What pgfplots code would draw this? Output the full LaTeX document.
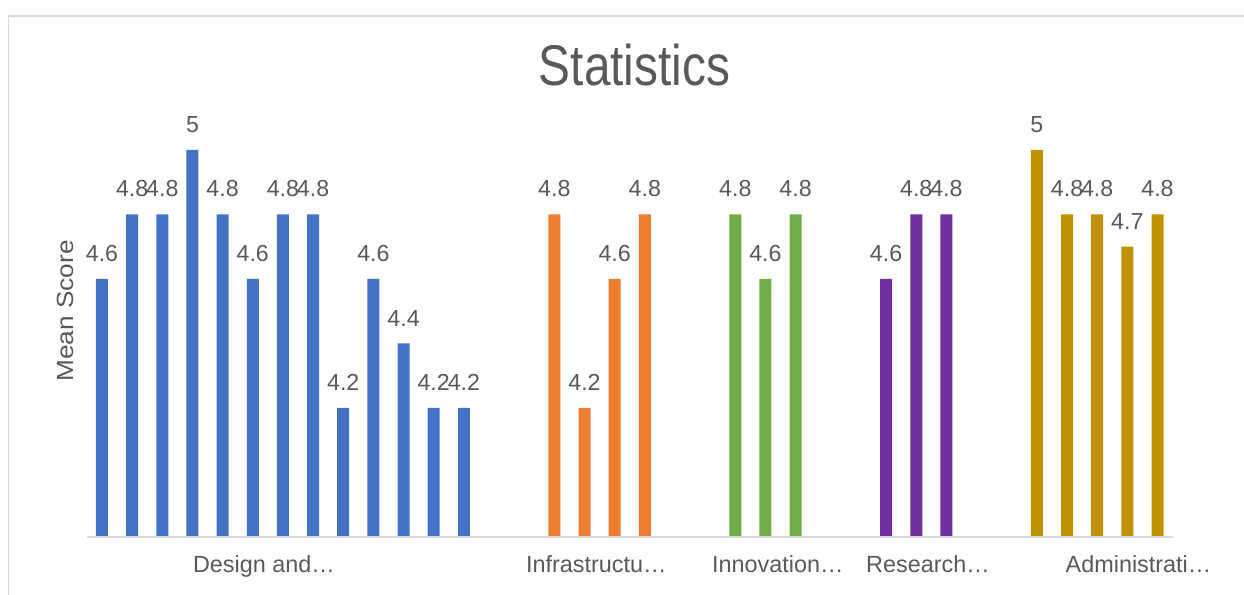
\documentclass[border=0pt]{standalone}
\usepackage{pgfplots}
\pgfplotsset{compat=1.18}
\usepackage{fontspec}
\setmainfont{Liberation Sans}
\definecolor{cBlue}{HTML}{4472C4}
\definecolor{cOrange}{HTML}{ED7D31}
\definecolor{cGreen}{HTML}{70AD47}
\definecolor{cPurple}{HTML}{7030A0}
\definecolor{cGold}{HTML}{BF9000}
\definecolor{txt}{HTML}{595959}
\definecolor{lgray}{HTML}{D9D9D9}
\begin{document}
\begin{tikzpicture}
\useasboundingbox (0,0) rectangle (622pt,297.5pt);
\draw[lgray, line width=0.85pt] (4.25pt,0pt) -- (4.25pt,289.5pt) -- (622pt,289.5pt);
\begin{axis}[
  at={(43.45pt,29pt)}, anchor=south west,
  scale only axis, width=542.85pt, height=225.75pt,
  xmin=-0.5, xmax=35.5, ymin=3.8, ymax=5.2,
  axis line style={draw=none},
  ytick=\empty,
  xtick={5.37,16.39,22.41,27.39,34.37},
  xticklabels={Design and…,Infrastructu…,Innovation…,Research…,Administrati…},
  major tick length=0pt,
  xticklabel style={anchor=base, yshift=-18pt, inner sep=0pt, text=txt, font=\fontsize{11.7}{14}\selectfont},
  /pgf/number format/assume math mode=true,
  nodes near coords={\pgfmathprintnumber{\pgfplotspointmeta}},
  every node near coord/.append style={anchor=south, inner sep=0pt, yshift=8.5pt, text=txt, font=\fontsize{11.6}{14}\selectfont},
]
\addplot[ybar, bar width=6pt, bar shift=0pt, fill=cBlue, draw=none] coordinates {
 (0,4.6) (1,4.8) (2,4.8) (3,5) (4,4.8) (5,4.6) (6,4.8) (7,4.8) (8,4.2) (9,4.6) (10,4.4) (11,4.2) (12,4.2)};
\addplot[ybar, bar width=6pt, bar shift=0pt, fill=cOrange, draw=none] coordinates {
 (15,4.8) (16,4.2) (17,4.6) (18,4.8)};
\addplot[ybar, bar width=6pt, bar shift=0pt, fill=cGreen, draw=none] coordinates {
 (21,4.8) (22,4.6) (23,4.8)};
\addplot[ybar, bar width=6pt, bar shift=0pt, fill=cPurple, draw=none] coordinates {
 (26,4.6) (27,4.8) (28,4.8)};
\addplot[ybar, bar width=6pt, bar shift=0pt, fill=cGold, draw=none] coordinates {
 (31,5) (32,4.8) (33,4.8) (34,4.7) (35,4.8)};
\end{axis}
\draw[lgray, line width=1pt] (43.45pt,29pt) -- (586.3pt,29pt);
\node[anchor=base, yscale=1.2, inner sep=0pt, text=txt, font=\fontsize{23.9}{28}\selectfont] at (317.25pt,254.5pt) {Statistics};
\node[rotate=90, xscale=1.12, anchor=base, inner sep=0pt, text=txt, font=\fontsize{11.7}{14}\selectfont] at (36.65pt,142pt) {Mean Score};
\end{tikzpicture}
\end{document}
